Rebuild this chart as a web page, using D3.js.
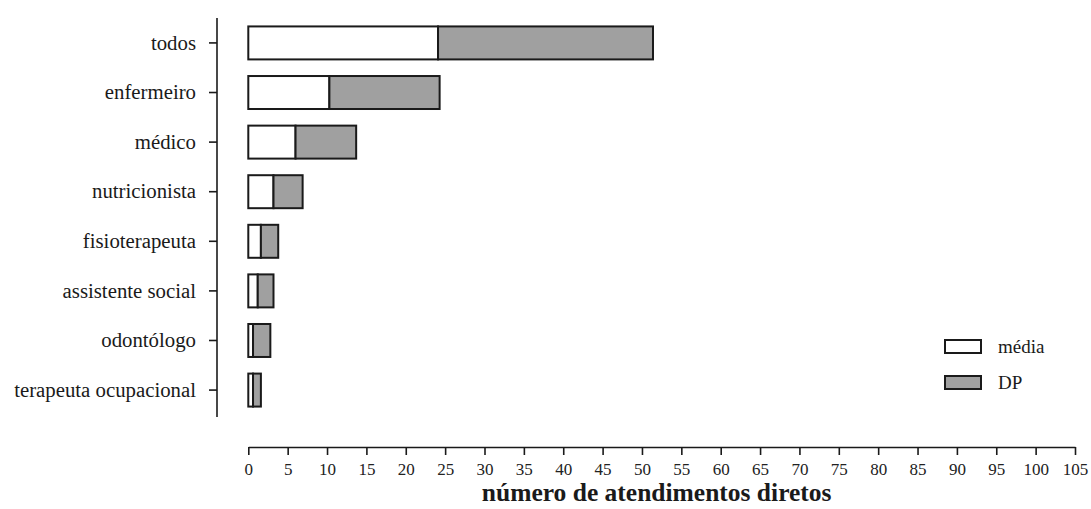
<!DOCTYPE html>
<html>
<head>
<meta charset="utf-8">
<script src="https://cdn.jsdelivr.net/npm/d3@7"></script>
<style>
  html, body { margin: 0; padding: 0; background: #fff; }
  svg { display: block; font-family: "Liberation Serif", "Times New Roman", serif; }
</style>
</head>
<body>
<svg id="chart" width="1091" height="509"></svg>
<script>
// Professional categories, top to bottom
const categories = ["todos", "enfermeiro", "médico", "nutricionista", "fisioterapeuta",
  "assistente social", "odontólogo", "terapeuta ocupacional"];
// Mean number of direct appointments per category
const media = [24.1, 10.3, 6.0, 3.2, 1.6, 1.2, 0.6, 0.6];
// Standard deviation, stacked after the mean
const dp = [27.3, 14.0, 7.7, 3.7, 2.2, 2.0, 2.2, 1.0];
// X axis ticks
const xTicks = d3.range(0, 106, 5);
const seriesNames = ["média", "DP"];
const seriesFill = ["#ffffff", "#a0a0a0"];

const svg = d3.select("#chart");

const x = d3.scaleLinear().domain([0, 105]).range([248.3, 1075]);
const y = d3.scaleBand().domain(categories).range([18, 415]).paddingInner(0.335).paddingOuter(0.17);

// Stacked segments: mean first, then SD
const rows = categories.map((c, i) => ({ cat: c, media: media[i], dp: dp[i] }));
const stack = d3.stack().keys(["media", "dp"])(rows);

const ink = "#1a1a1a";

svg.append("g")
  .selectAll("g")
  .data(stack)
  .join("g")
  .attr("fill", (d, i) => seriesFill[i])
  .selectAll("rect")
  .data(d => d)
  .join("rect")
  .attr("x", d => x(d[0]))
  .attr("width", d => x(d[1]) - x(d[0]))
  .attr("y", d => y(d.data.cat))
  .attr("height", y.bandwidth())
  .attr("stroke", ink)
  .attr("stroke-width", 2);

// Y axis
const yAxis = svg.append("g")
  .attr("transform", "translate(217,0)")
  .call(d3.axisLeft(y).tickSize(8).tickPadding(13).tickSizeOuter(0));
yAxis.select(".domain").remove();
yAxis.append("line")
  .attr("x1", 0).attr("x2", 0).attr("y1", 18).attr("y2", 417)
  .attr("stroke", ink).attr("stroke-width", 1.6);
yAxis.selectAll(".tick line").attr("stroke", ink).attr("stroke-width", 1.6);
yAxis.selectAll(".tick text")
  .attr("font-size", 20.8).attr("fill", ink)
  .style("font-family", "'Liberation Serif', serif");

// X axis
const xAxis = svg.append("g")
  .attr("transform", "translate(0,447)")
  .call(d3.axisBottom(x).tickValues(xTicks).tickSize(8).tickPadding(8).tickSizeOuter(0));
xAxis.select(".domain").attr("stroke", ink).attr("stroke-width", 1.6);
xAxis.selectAll(".tick line").attr("stroke", ink).attr("stroke-width", 1.6);
xAxis.selectAll(".tick text")
  .attr("font-size", 17).attr("fill", "#222")
  .style("font-family", "'Liberation Serif', serif");

// X axis title
svg.append("text")
  .attr("x", (x(0) + x(105)) / 2 - 5)
  .attr("y", 501)
  .attr("text-anchor", "middle")
  .attr("font-size", 25.5)
  .attr("font-weight", "bold")
  .attr("fill", ink)
  .text("número de atendimentos diretos");

// Legend
const legend = svg.append("g")
  .selectAll("g")
  .data(seriesNames)
  .join("g")
  .attr("transform", (d, i) => `translate(945,${340 + i * 36})`);
legend.append("rect")
  .attr("width", 36).attr("height", 13)
  .attr("fill", (d, i) => seriesFill[i])
  .attr("stroke", ink).attr("stroke-width", 2);
legend.append("text")
  .attr("x", 53).attr("y", 6.5).attr("dy", "0.35em")
  .attr("font-size", 19).attr("fill", ink)
  .text(d => d);
</script>
</body>
</html>
